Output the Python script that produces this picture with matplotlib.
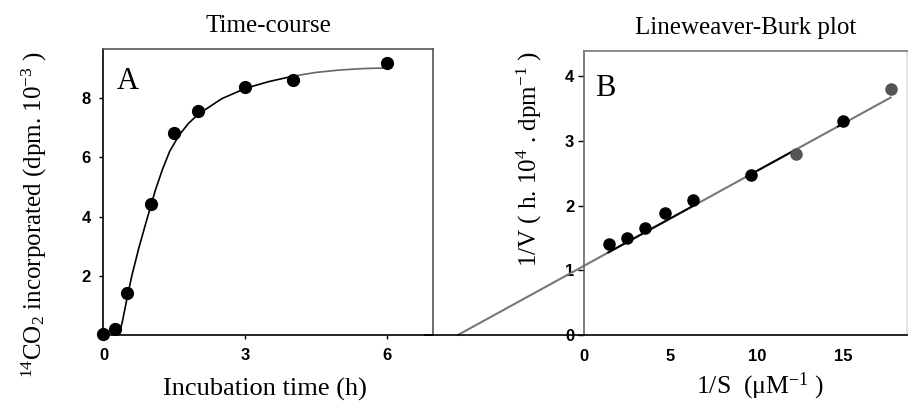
import matplotlib.pyplot as plt

plt.rcParams['font.family'] = ['Liberation Serif', 'DejaVu Serif']
plt.rcParams['mathtext.fontset'] = 'custom'
plt.rcParams['mathtext.rm'] = 'Liberation Serif'
plt.rcParams['mathtext.it'] = 'Liberation Serif:italic'
plt.rcParams['mathtext.default'] = 'rm'

# A: time-course
time_h = [0, 0.25, 0.5, 1, 1.5, 2, 3, 4, 6]
co2_dpm = [0.05, 0.2, 1.42, 4.43, 6.83, 7.55, 8.38, 8.63, 9.2]
# fitted curve, read point by point
curve_t = [0.33, 0.4, 0.5, 0.6, 0.75, 0.9, 1.0, 1.1, 1.25, 1.4, 1.6, 1.8, 2.0, 2.5, 3.0, 3.5, 4.0]
curve_y = [0.0, 0.45, 1.25, 2.0, 2.95, 3.8, 4.35, 4.9, 5.6, 6.2, 6.75, 7.15, 7.45, 7.98, 8.33, 8.56, 8.74]
tail_t = [4.0, 4.5, 5.0, 5.5, 6.0]
tail_y = [8.74, 8.87, 8.95, 9.0, 9.02]

# B: Lineweaver-Burk
inv_s = [1.46, 2.47, 3.53, 4.7, 6.32, 9.69, 15.0]
inv_v = [1.40, 1.50, 1.65, 1.89, 2.09, 2.47, 3.31]
inv_s_grey = [12.25, 17.75]
inv_v_grey = [2.80, 3.81]
fit_x = [-7.3, 17.75]
intercept = 1.07
slope = 0.1465
dark_parts = [(1.4, 6.6), (9.4, 12.2), (14.7, 15.3)]

fig = plt.figure(figsize=(9.09, 4.03), dpi=100)
axA = fig.add_axes([0.1138, 0.1687, 0.3625, 0.7097])
axB = fig.add_axes([0.6425, 0.1687, 0.3553, 0.7047])

tick_font = dict(family='Liberation Sans', weight='bold', size=12)

# panel A
axA.plot(curve_t, curve_y, color='black', lw=1.2, zorder=2)
axA.plot(tail_t, tail_y, color='#666666', lw=1.2, zorder=2)
axA.plot(time_h, co2_dpm, 'o', color='black', ms=8.5, clip_on=False, zorder=3)
axA.set_xlim(0, 6.97)
axA.set_ylim(0, 9.66)
axA.set_xticks([0, 3, 6])
axA.set_yticks([2, 4, 6, 8])
axA.tick_params(direction='out', length=3, width=1, pad=6)
for lab in axA.get_xticklabels() + axA.get_yticklabels():
    lab.set_fontproperties(tick_font)
axA.text(0.04, 0.86, 'A', transform=axA.transAxes, fontsize=22)
axA.set_title('Time-course', fontsize=18, pad=12)
axA.set_xlabel('Incubation time (h)', fontsize=19)
axA.xaxis.set_label_coords(0.49, -0.15, transform=axA.transAxes)
axA.xaxis.label.set_va('top')
axA.set_ylabel(r'$^{14}$CO$_2$ incorporated (dpm. 10$^{-3}$ )', fontsize=18)
axA.yaxis.set_label_coords(-0.165, 0.42)
for side in ['top', 'right']:
    axA.spines[side].set_color('#555555')
axA.spines['left'].set_color('black')
axA.spines['bottom'].set_color('black')
for sp in axA.spines.values():
    sp.set_linewidth(1.2)

# panel B
yfit = [intercept + slope * x for x in fit_x]
axB.plot(fit_x, yfit, color='#777777', lw=1.5, clip_on=False, zorder=2)
for x0, x1 in dark_parts:
    axB.plot([x0, x1], [intercept + slope * x0, intercept + slope * x1],
             color='black', lw=1.4, zorder=2)
# baseline shared with panel A
axB.plot([-9.2, 0], [0, 0], color='black', lw=1.2, clip_on=False)
axB.plot(inv_s, inv_v, 'o', color='black', ms=8, zorder=3)
axB.plot(inv_s_grey, inv_v_grey, 'o', color='#555555', ms=8, clip_on=False, zorder=3)
axB.set_xlim(0, 18.7)
axB.set_ylim(0, 4.39)
axB.set_xticks([0, 5, 10, 15])
axB.set_yticks([0, 1, 2, 3, 4])
axB.tick_params(direction='out', length=4, width=1, pad=3)
axB.tick_params(axis='x', length=0, pad=10)
for lab in axB.get_xticklabels() + axB.get_yticklabels():
    lab.set_fontproperties(tick_font)
axB.text(0.035, 0.84, 'B', transform=axB.transAxes, fontsize=22)
axB.set_title('Lineweaver-Burk plot', fontsize=18, pad=12)
axB.set_xlabel(r'1/S  ($\mu$M$^{-1}$ )', fontsize=18.5)
axB.xaxis.set_label_coords(0.545, -0.125, transform=axB.transAxes)
axB.xaxis.label.set_va('top')
axB.set_ylabel(r'1/V ( h. 10$^4$ . dpm$^{-1}$ )', fontsize=18)
axB.yaxis.set_label_coords(-0.125, 0.62)
axB.spines['left'].set_color('#666666')
axB.spines['top'].set_color('#777777')
axB.spines['right'].set_color('#dddddd')
axB.spines['bottom'].set_color('black')
for sp in axB.spines.values():
    sp.set_linewidth(1.2)

fig.savefig('out.png', dpi=100)
